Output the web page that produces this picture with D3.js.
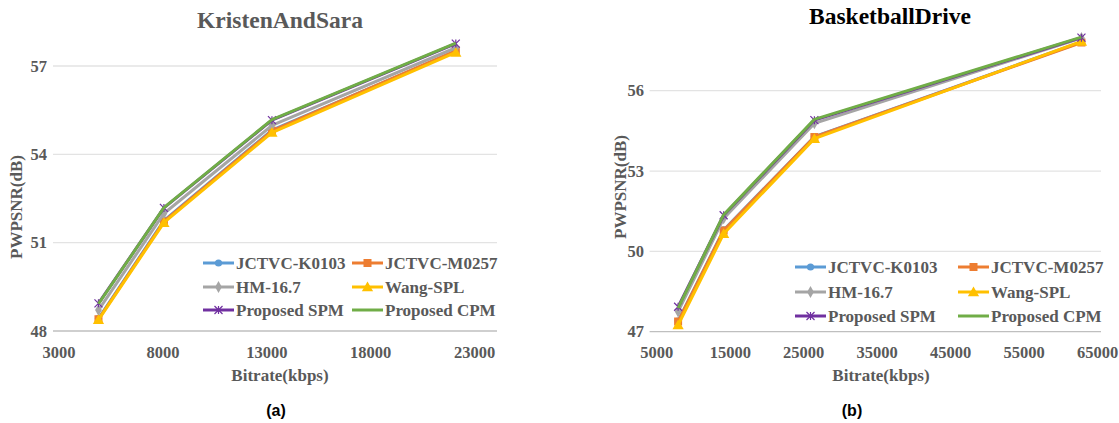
<!DOCTYPE html>
<html>
  <head>
    <script src="https://d3js.org/d3.v7.min.js"></script>
    <style>
      body { margin: 0; background: #fff; }
      .tick-label { font-family: "Liberation Serif", serif; font-weight: bold; font-size: 16.5px; fill: #595959; }
      .axis-title { font-family: "Liberation Serif", serif; font-weight: bold; font-size: 17px; fill: #595959; }
      .legend-text { font-family: "Liberation Serif", serif; font-weight: bold; font-size: 17px; fill: #595959; }
      .caption { font-family: "Liberation Sans", Arial, sans-serif; font-weight: bold; font-size: 16px; fill: #000; }
    </style>
  </head>
  <body>
    <svg id="chart" width="1119" height="423"></svg>
    <script>
      // Series names, colours and marker shapes
      var seriesNames = ["JCTVC-K0103", "JCTVC-M0257", "HM-16.7", "Wang-SPL", "Proposed SPM", "Proposed CPM"];
      var seriesColors = ["#5B9BD5", "#ED7D31", "#A5A5A5", "#FFC000", "#7030A0", "#70AD47"];
      var seriesMarkers = ["circle", "square", "diamond", "triangle", "star", "none"];

      // (a) KristenAndSara
      var ksBitrate = [4900, 8050, 13250, 22100];
      var ksK0103 = [48.42, 51.75, 54.82, 57.50];
      var ksM0257 = [48.40, 51.72, 54.80, 57.52];
      var ksHM = [48.71, 51.99, 54.98, 57.62];
      var ksWang = [48.38, 51.68, 54.74, 57.46];
      var ksSPM = [48.94, 52.18, 55.16, 57.76];
      var ksCPM = [48.92, 52.19, 55.18, 57.78];
      var ksXTicks = [3000, 8000, 13000, 18000, 23000];
      var ksYTicks = [48, 51, 54, 57];

      // (b) BasketballDrive
      var bdBitrate = [7900, 14100, 26450, 62800];
      var bdK0103 = [47.40, 50.80, 54.28, 57.82];
      var bdM0257 = [47.38, 50.78, 54.27, 57.80];
      var bdHM = [47.75, 51.23, 54.78, 57.97];
      var bdWang = [47.25, 50.66, 54.21, 57.84];
      var bdSPM = [47.93, 51.35, 54.90, 57.98];
      var bdCPM = [47.88, 51.37, 54.93, 58.00];
      var bdXTicks = [5000, 15000, 25000, 35000, 45000, 55000, 65000];
      var bdYTicks = [47, 50, 53, 56];

      var svg = d3.select("#chart");

      function drawMarker(g, type, x, y, color) {
        if (type === "circle") {
          g.append("circle").attr("cx", x).attr("cy", y).attr("r", 3.6).attr("fill", color);
        } else if (type === "square") {
          g.append("rect").attr("x", x - 4).attr("y", y - 4).attr("width", 8).attr("height", 8).attr("fill", color);
        } else if (type === "diamond") {
          g.append("path").attr("d", d3.symbol(d3.symbolDiamond, 40)()).attr("transform", "translate(" + x + "," + y + ")").attr("fill", color);
        } else if (type === "triangle") {
          g.append("path").attr("d", d3.symbol(d3.symbolTriangle, 55)()).attr("transform", "translate(" + x + "," + (y + 1) + ")").attr("fill", color);
        } else if (type === "star") {
          var s = 4;
          g.append("path")
            .attr("d", "M" + (x - s) + "," + (y - s) + "L" + (x + s) + "," + (y + s) +
                       "M" + (x - s) + "," + (y + s) + "L" + (x + s) + "," + (y - s) +
                       "M" + x + "," + (y - s) + "L" + x + "," + (y + s))
            .attr("stroke", color).attr("stroke-width", 1.2).attr("fill", "none");
        }
      }

      function drawChart(opt) {
        var g = svg.append("g");
        var x = d3.scaleLinear().domain(opt.xDomain).range(opt.xRange);
        var y = d3.scaleLinear().domain(opt.yDomain).range(opt.yRange);

        // Horizontal gridlines
        g.selectAll(".grid").data(opt.yTicks).enter().append("line")
          .attr("x1", opt.gridX[0]).attr("x2", opt.gridX[1])
          .attr("y1", function(d) { return y(d); }).attr("y2", function(d) { return y(d); })
          .attr("stroke", function(d, i) { return i === 0 ? "#BFBFBF" : "#E3E3E3"; })
          .attr("stroke-width", 1.3);

        // Tick labels
        g.selectAll(".ylab").data(opt.yTicks).enter().append("text")
          .attr("class", "tick-label")
          .attr("x", opt.yLabelX).attr("y", function(d) { return y(d) + 5.5; })
          .attr("text-anchor", "end").text(function(d) { return d; });
        g.selectAll(".xlab").data(opt.xTicks).enter().append("text")
          .attr("class", "tick-label")
          .attr("x", function(d) { return x(d); }).attr("y", opt.xLabelY)
          .attr("text-anchor", "middle").text(function(d) { return d; });

        // Titles
        g.append("text").attr("x", opt.titleX).attr("y", opt.titleY).attr("text-anchor", "middle")
          .style("font-family", "Liberation Serif, serif").style("font-weight", "bold")
          .style("font-size", "23.5px").style("fill", opt.titleColor).text(opt.title);
        g.append("text").attr("class", "axis-title").attr("x", opt.xTitleX).attr("y", 381)
          .attr("text-anchor", "middle").text("Bitrate(kbps)");
        g.append("text").attr("class", "axis-title")
          .attr("transform", "translate(" + opt.yTitleX + "," + opt.yTitleY + ") rotate(-90)")
          .attr("text-anchor", "middle").text("PWPSNR(dB)");
        g.append("text").attr("class", "caption").attr("x", opt.captionX).attr("y", 416)
          .attr("text-anchor", "middle").text(opt.caption);

        // Series lines and markers
        var line = d3.line().x(function(d) { return x(d[0]); }).y(function(d) { return y(d[1]); });
        opt.series.forEach(function(vals, i) {
          var pts = opt.bitrate.map(function(b, j) { return [b, vals[j]]; });
          g.append("path").datum(pts).attr("d", line)
            .attr("fill", "none").attr("stroke", seriesColors[i]).attr("stroke-width", 3)
            .attr("stroke-linejoin", "round");
          pts.forEach(function(p) { drawMarker(g, seriesMarkers[i], x(p[0]), y(p[1]), seriesColors[i]); });
        });

        // Legend
        seriesNames.forEach(function(name, i) {
          var col = i % 2, row = Math.floor(i / 2);
          var lx = opt.legendX[col], ly = opt.legendY[row];
          g.append("line").attr("x1", lx).attr("x2", lx + 31).attr("y1", ly).attr("y2", ly)
            .attr("stroke", seriesColors[i]).attr("stroke-width", 3);
          drawMarker(g, seriesMarkers[i], lx + 15.5, ly, seriesColors[i]);
          g.append("text").attr("class", "legend-text").attr("x", lx + 33).attr("y", ly + 6).text(name);
        });
      }

      drawChart({
        title: "KristenAndSara", titleColor: "#595959", titleX: 280, titleY: 28, caption: "(a)", captionX: 276,
        xDomain: [3000, 23000], xRange: [59, 474.5], yDomain: [48, 57], yRange: [331, 66],
        gridX: [53, 497], xTicks: ksXTicks, yTicks: ksYTicks, yLabelX: 47, xLabelY: 358,
        xTitleX: 280, yTitleX: 22, yTitleY: 207,
        bitrate: ksBitrate, series: [ksK0103, ksM0257, ksHM, ksWang, ksSPM, ksCPM],
        legendX: [203, 352], legendY: [263, 287, 310]
      });

      drawChart({
        title: "BasketballDrive", titleColor: "#000", titleX: 890, titleY: 24, caption: "(b)", captionX: 852,
        xDomain: [5000, 65000], xRange: [656.8, 1097.6], yDomain: [47, 56], yRange: [331.7, 90.7],
        gridX: [649.6, 1101], xTicks: bdXTicks, yTicks: bdYTicks, yLabelX: 644, xLabelY: 358,
        xTitleX: 881, yTitleX: 626, yTitleY: 187,
        bitrate: bdBitrate, series: [bdK0103, bdM0257, bdHM, bdWang, bdSPM, bdCPM],
        legendX: [795, 958], legendY: [267, 292, 316]
      });
    </script>
  </body>
</html>
